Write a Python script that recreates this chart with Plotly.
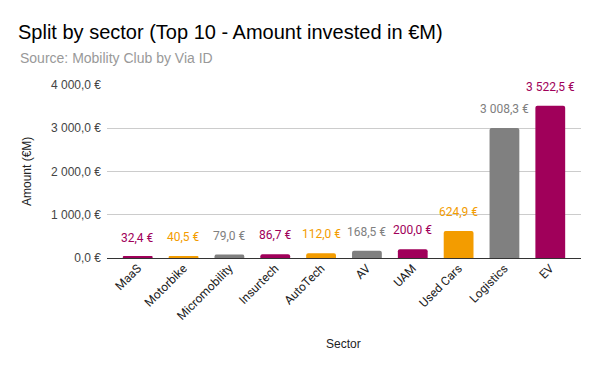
import plotly.graph_objects as go

sectors = ["MaaS", "Motorbike", "Micromobility", "Insurtech", "AutoTech", "AV", "UAM", "Used Cars", "Logistics", "EV"]
amounts = [32.4, 40.5, 79.0, 86.7, 112.0, 168.5, 200.0, 624.9, 3008.3, 3522.5]
colors = ["#A0005A", "#F39C00", "#808080", "#A0005A", "#F39C00", "#808080", "#A0005A", "#F39C00", "#808080", "#A0005A"]
y_ticks = [0, 1000, 2000, 3000, 4000]


def fmt(v):
    s = f"{v:,.1f}"
    s = s.replace(",", " ").replace(".", ",")
    return s + " €"


fig = go.Figure()
fig.add_trace(go.Bar(
    x=sectors, y=amounts, marker_color=colors, marker_line_width=0,
    hoverinfo="skip",
))

annotations = []
for s, v, c in zip(sectors, amounts, colors):
    annotations.append(dict(
        x=s, y=v, xref="x", yref="y", text=fmt(v), showarrow=False,
        yanchor="bottom", yshift=10,
        font=dict(family="Roboto", size=12, color=c),
    ))

annotations.append(dict(
    text="Amount (€M)", x=27, y=172, showarrow=False,
    textangle=-90, font=dict(family="Liberation Sans, Arial", size=12, color="#222"),
))
annotations.append(dict(
    text="Source: Mobility Club by Via ID", x=18, y=58, showarrow=False,
    xanchor="left", font=dict(family="Liberation Sans, Arial", size=14, color="#999999"),
))
annotations.append(dict(
    text="Sector", x=343, y=344, showarrow=False,
    font=dict(family="Liberation Sans, Arial", size=12, color="#222"),
))

# convert pixel-positioned annotations to paper coords
W, H = 600, 371
L, R, T, B = 107, 19, 85, 113
pw, ph = W - L - R, H - T - B
for a in annotations[-3:]:
    a["xref"] = "paper"
    a["yref"] = "paper"
    a["x"] = (a["x"] - L) / pw
    a["y"] = (H - B - a["y"]) / ph
    a.setdefault("xanchor", "center")
    a["yanchor"] = "middle"

fig.update_layout(
    width=W, height=H,
    margin=dict(l=L, r=R, t=T, b=B, pad=0),
    plot_bgcolor="white", paper_bgcolor="white",
    separators=", ",
    bargap=0.35,
    barcornerradius=2,
    showlegend=False,
    title=dict(
        text="Split by sector (Top 10 - Amount invested in €M)",
        x=18 / W, xanchor="left", y=1 - 32 / H, yanchor="middle",
        font=dict(family="Liberation Sans, Arial", size=20, color="#000"),
    ),
    annotations=annotations,
    xaxis=dict(
        range=[-0.67, 9.67], tickangle=-45, showgrid=False,
        tickfont=dict(family="Roboto", size=12, color="#222"),
        ticks="", showline=False,
    ),
    yaxis=dict(
        range=[0, 4000], tickvals=y_ticks, ticktext=[fmt(v) for v in y_ticks],
        gridcolor="#CCCCCC", gridwidth=1, zeroline=True, zerolinecolor="#333333",
        zerolinewidth=1, showline=False, ticks="", ticklabelstandoff=5,
        tickfont=dict(family="Liberation Sans, Arial", size=12, color="#444"),
    ),
)

fig.write_html("out.html", config={"displayModeBar": False},
               post_script="document.body.style.margin='0';")
